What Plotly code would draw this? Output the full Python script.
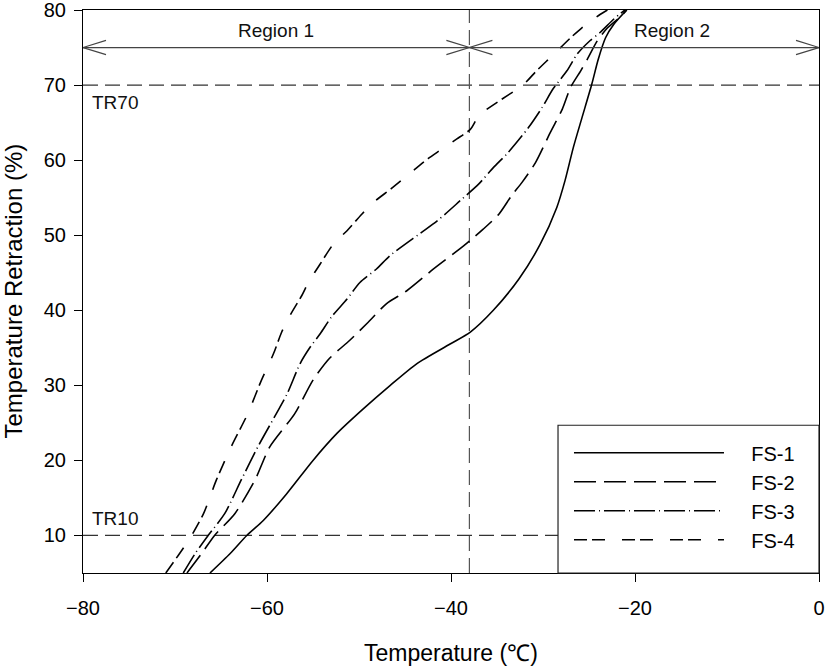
import plotly.graph_objects as go

# ---- data ----
fs1_x = [-66.2, -64.0, -62.2, -60.4, -57.9, -55.0, -52.4, -49.6, -46.6, -43.7, -40.1, -37.9, -35.4,
         -32.6, -30.3, -28.5, -27.6, -26.7, -25.8, -24.7, -24.0, -23.2, -22.3, -20.9]
fs1_y = [5, 7.6, 10, 12, 15.5, 20, 23.6, 26.8, 30.0, 32.9, 35.5, 37.1, 40,
         44.2, 48.8, 53.7, 57.3, 61.7, 65.5, 70.1, 73.4, 76.3, 78.1, 80]

fs2_x = [-68.7, -67.1, -65.7, -63.5, -61.3, -59.7, -57.0, -55.0, -53.2, -51.0, -49.0, -47.0, -44.8,
         -41.9, -38.6, -36.5, -34.8, -33.4, -32.3, -30.8, -29.2, -27.9, -27.0, -25.9, -25.2, -24.1,
         -23.0, -21.5, -20.9]
fs2_y = [5, 7.6, 10, 12.9, 17.4, 21.8, 26.2, 30.7, 33.6, 36.0, 38.4, 40.9, 42.6,
         45.5, 48.6, 50.8, 52.8, 55.3, 57.0, 59.7, 63.7, 66.8, 69.7, 71.9, 73.4, 75.9,
         77.6, 79.2, 80]

fs3_x = [-69.1, -67.8, -66.4, -64.6, -62.8, -61.0, -59.0, -57.8, -56.4, -55.3, -54.2, -53.0, -51.3,
         -49.9, -48.1, -46.6, -43.4, -41.5, -39.0, -37.0, -35.4, -33.8, -31.6, -30.1, -28.9, -27.4,
         -26.3, -24.9, -23.8, -22.3, -21.1]
fs3_y = [5, 7.6, 10, 12.9, 17.4, 21.8, 26.2, 28.9, 32.9, 35.1, 36.9, 39.1, 41.5,
         43.7, 45.5, 47.3, 50.2, 51.9, 54.6, 56.8, 59.0, 61.0, 64.3, 67.0, 69.5, 71.9,
         74.1, 75.9, 77.0, 78.8, 80]

fs4_x = [-71.0, -69.5, -68.2, -66.9, -65.5, -63.9, -62.1, -60.6, -59.3, -58.4, -57.5, -56.2, -55.5,
         -54.2, -52.8, -51.3, -49.7, -48.4, -46.5, -44.5, -42.5, -41.2, -39.4, -37.9, -36.9, -32.1,
         -30.7, -29.0, -27.0, -25.8, -23.8, -23.0]
fs4_y = [5, 7.6, 10, 12.9, 17.4, 21.8, 26.2, 30.7, 34.2, 37.1, 39.3, 42.0, 43.7,
         46.2, 48.8, 50.6, 52.8, 54.4, 56.2, 58.2, 60.2, 61.3, 62.8, 64.1, 66.0, 70.1,
         71.9, 73.9, 76.3, 77.6, 79.4, 80]

series_names = ["FS-1", "FS-2", "FS-3", "FS-4"]

x_ticks = [-80, -60, -40, -20, 0]
y_ticks = [10, 20, 30, 40, 50, 60, 70, 80]

tr_levels = [70, 10]
tr_labels = ["TR70", "TR10"]
region_bounds = [-80, -38, 0]
region_labels = ["Region 1", "Region 2"]
region_label_x = [-59, -16]
arrow_y = 75

FONT = "Arial, Liberation Sans, sans-serif"
PAD = "\u00a0" * 4  # spacing between legend line sample and its label

fig = go.Figure()

dashes = ["solid", "22px,8px", "21px,4px,1px,4px", "13px,5px,13px,17px"]
all_x = [fs1_x, fs2_x, fs3_x, fs4_x]
all_y = [fs1_y, fs2_y, fs3_y, fs4_y]
for name, xs, ys, d in zip(series_names, all_x, all_y, dashes):
    fig.add_trace(go.Scatter(
        x=xs, y=ys, mode="lines", name=PAD + name,
        line=dict(color="black", width=1.6, dash=d, shape="spline", smoothing=0.7),
    ))

shapes = []
for lvl in tr_levels:
    shapes.append(dict(type="line", xref="x", yref="y", x0=-80, x1=0, y0=lvl, y1=lvl,
                       line=dict(color="#333333", width=1.2, dash="15px,7px"), layer="below"))
shapes.append(dict(type="line", xref="x", yref="y", x0=region_bounds[1], x1=region_bounds[1],
                   y0=5, y1=80, line=dict(color="#555555", width=1.2, dash="15px,7px"), layer="below"))
ax_len = 2.5
ay_half = 0.95
for a, b in zip(region_bounds[:-1], region_bounds[1:]):
    shapes.append(dict(type="line", xref="x", yref="y", x0=a, x1=b, y0=arrow_y, y1=arrow_y,
                       line=dict(color="#444444", width=1.2)))
    shapes.append(dict(type="path", xref="x", yref="y",
                       path=f"M {a+ax_len},{arrow_y+ay_half} L {a},{arrow_y} L {a+ax_len},{arrow_y-ay_half}",
                       line=dict(color="#444444", width=1.2)))
    shapes.append(dict(type="path", xref="x", yref="y",
                       path=f"M {b-ax_len},{arrow_y+ay_half} L {b},{arrow_y} L {b-ax_len},{arrow_y-ay_half}",
                       line=dict(color="#444444", width=1.2)))
# legend frame (white box that also hides the TR10 line behind the legend)
shapes.append(dict(type="rect", xref="paper", yref="paper", x0=0.6454, x1=1.0, y0=0.0, y1=0.2624,
                   fillcolor="white", line=dict(color="#222222", width=1.2), layer="above"))

annotations = []
for lbl, lx in zip(region_labels, region_label_x):
    annotations.append(dict(x=lx, y=arrow_y, xref="x", yref="y", text=lbl, showarrow=False,
                            yanchor="bottom", yshift=5, font=dict(size=19, color="#111", family=FONT)))
# TR70 below its line, TR10 above its line
annotations.append(dict(x=-80, y=tr_levels[0], xref="x", yref="y", text=tr_labels[0], showarrow=False,
                        xanchor="left", yanchor="top", xshift=7, yshift=-5,
                        font=dict(size=19, color="#111", family=FONT)))
annotations.append(dict(x=-80, y=tr_levels[1], xref="x", yref="y", text=tr_labels[1], showarrow=False,
                        xanchor="left", yanchor="bottom", xshift=7, yshift=4,
                        font=dict(size=19, color="#111", family=FONT)))
annotations.append(dict(x=0.5, y=0, xref="paper", yref="paper", text="Temperature (℃)",
                        showarrow=False, yanchor="middle", yshift=-80,
                        font=dict(size=23, family=FONT, color="black")))
annotations.append(dict(x=0, y=0.5, xref="paper", yref="paper", text="Temperature Retraction (%)",
                        showarrow=False, xanchor="center", textangle=-90, xshift=-70,
                        font=dict(size=24, family=FONT, color="black")))

fig.update_layout(
    width=827, height=669,
    margin=dict(l=83, r=8, t=10, b=96, autoexpand=False),
    paper_bgcolor="white", plot_bgcolor="white",
    font=dict(family=FONT, size=20, color="black"),
    shapes=shapes, annotations=annotations,
    showlegend=True,
    legend=dict(x=0.6603, y=0.2482, xanchor="left", yanchor="top",
                bgcolor="rgba(0,0,0,0)", borderwidth=0,
                font=dict(size=20, family=FONT), itemwidth=150),
    xaxis=dict(range=[-80, 0], tickvals=x_ticks, ticks="outside", ticklen=8, tickcolor="black",
               showline=True, linecolor="black", linewidth=1.2, mirror=True, automargin=False,
               showgrid=False, zeroline=False, ticklabelstandoff=9, ticklabeloverflow="allow"),
    yaxis=dict(range=[5, 80], tickvals=y_ticks, ticks="outside", ticklen=8, tickcolor="black",
               showline=True, linecolor="black", linewidth=1.2, mirror=True, automargin=False,
               showgrid=False, zeroline=False, ticklabelstandoff=4, ticklabeloverflow="allow"),
)

fig.write_html("out.html", config={"displayModeBar": False},
               post_script="document.body.style.margin='0px';")
